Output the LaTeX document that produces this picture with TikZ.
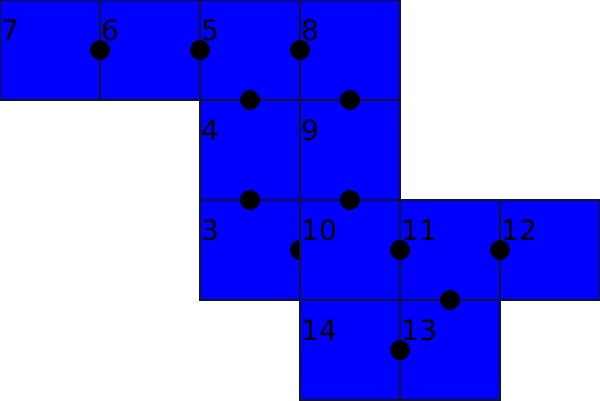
\documentclass[tikz,border=0pt]{standalone}
\usepackage{fontspec}
\setmainfont{DejaVu Sans}
\begin{document}
\begin{tikzpicture}[x=1cm,y=-1cm,
  sq/.style={fill={rgb,255:red,0;green,0;blue,255}, draw={rgb,255:red,20;green,20;blue,40}, line width=0.3pt},
  lbl/.style={anchor=base west, inner sep=0pt, font=\fontsize{8}{8}\selectfont},
  dot/.style={circle, fill=black, minimum size=0.2cm, inner sep=0pt}]
\useasboundingbox (0,0) rectangle (6,4);
% squares: name, x, y (top-left in units of 100px)
\foreach \n/\x/\y in {7/0/0, 6/1/0, 5/2/0, 8/3/0, 4/2/1, 9/3/1, 3/2/2}{
  \path[sq] (\x,\y) rectangle ++(1,1);
  \node[lbl] (l\n) at (\x+0.005,\y+0.40) {\n};
}
\node[dot] (d1) at (3,2.5) {};
\foreach \n/\x/\y in {10/3/2, 11/4/2, 12/5/2, 14/3/3, 13/4/3}{
  \path[sq] (\x,\y) rectangle ++(1,1);
  \node[lbl] (l\n) at (\x+0.005,\y+0.40) {\n};
}
\node[dot] (d2) at (1,0.5) {};
\node[dot] (d3) at (2,0.5) {};
\node[dot] (d4) at (3,0.5) {};
\node[dot] (d5) at (2.5,1) {};
\node[dot] (d6) at (3.5,1) {};
\node[dot] (d7) at (2.5,2) {};
\node[dot] (d8) at (3.5,2) {};
\node[dot] (d9) at (4,2.5) {};
\node[dot] (d10) at (5,2.5) {};
\node[dot] (d11) at (4.5,3) {};
\node[dot] (d12) at (4,3.5) {};
\end{tikzpicture}
\end{document}
